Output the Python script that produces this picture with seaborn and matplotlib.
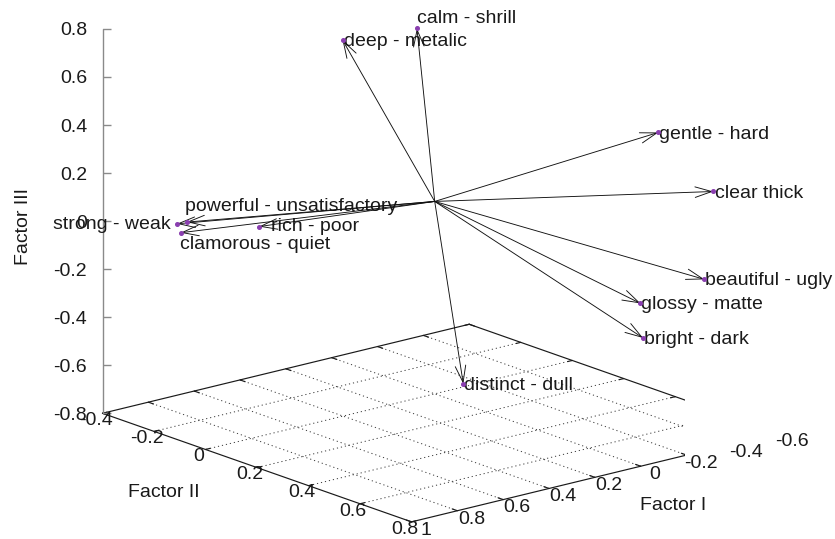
import numpy as np
import matplotlib
matplotlib.use("Agg")
import matplotlib.pyplot as plt
import seaborn as sns
from matplotlib.patches import FancyArrowPatch, Rectangle
from matplotlib.path import Path
from mpl_toolkits.mplot3d import proj3d

# ---- data: loadings of the rating scales on three factors ----
scales = ["calm - shrill", "deep - metalic", "gentle - hard", "clear thick",
          "beautiful - ugly", "glossy - matte", "bright - dark", "distinct - dull",
          "strong - weak", "powerful - unsatisfactory", "clamorous - quiet",
          "rich - poor"]
factor1 = [0.10, 0.20, -0.20, -0.35, -0.30, -0.10, -0.10, 0.10,
           0.90, 0.88, 0.85, 0.62]
factor2 = [0.02, -0.18, 0.69, 0.77, 0.78, 0.71, 0.72, 0.20,
           -0.20, -0.18, -0.23, -0.13]
factor3 = [0.75, 0.65, 0.50, 0.25, -0.10, -0.18, -0.32, -0.66,
           0.04, 0.05, -0.02, -0.01]

f1_ticks = [1.0, 0.8, 0.6, 0.4, 0.2, 0.0, -0.2, -0.4, -0.6]
f2_ticks = [-0.4, -0.2, 0.0, 0.2, 0.4, 0.6, 0.8]
f3_ticks = [-0.8, -0.6, -0.4, -0.2, 0.0, 0.2, 0.4, 0.6, 0.8]

# label placement relative to each arrow tip: (dx px, dy px downward, align)
label_layout = {
    "calm - shrill": (0.5, -5.0, "left"),
    "deep - metalic": (1.0, 6.4, "left"),
    "gentle - hard": (0.5, 6.6, "left"),
    "clear thick": (1.5, 6.6, "left"),
    "beautiful - ugly": (1.0, 5.5, "left"),
    "glossy - matte": (0.5, 5.7, "left"),
    "bright - dark": (1.0, 6.0, "left"),
    "distinct - dull": (1.0, 6.0, "left"),
    "strong - weak": (-6.6, 4.7, "right"),
    "powerful - unsatisfactory": (-1.5, -10.7, "left"),
    "clamorous - quiet": (-0.5, 16.0, "left"),
    "rich - poor": (11.5, 4.0, "left"),
}

# ---- style ----
sns.set_theme(style="white")
plt.rcParams["font.family"] = ["Liberation Sans", "DejaVu Sans"]
FS = 14.0
TXT = "#1a1a1a"
DOT = sns.color_palette(["#8a3fb0"])[0]
W_PX, H_PX, DPI = 835, 539, 100
PT = 72.0 / DPI

F1_LIM = (-0.6, 1.0)
F2_LIM = (-0.4, 0.8)
F3_LIM = (-0.8, 0.8)


class Arrow3D(FancyArrowPatch):
    """Arrow between two 3D points, projected with the axes' own matrix."""

    def __init__(self, xs, ys, zs, **kw):
        super().__init__((0, 0), (0, 0), **kw)
        self._verts3d = (xs, ys, zs)

    def do_3d_projection(self, renderer=None):
        xs, ys, zs = proj3d.proj_transform(*[np.asarray(v, float) for v in self._verts3d],
                                           self.axes.M)
        self.set_positions((xs[0], ys[0]), (xs[1], ys[1]))
        return np.min(zs)


fig = plt.figure(figsize=(W_PX / DPI, H_PX / DPI), dpi=DPI)
fig.patch.set_facecolor("white")
ax = fig.add_axes([0, 0, 1, 1], projection="3d", proj_type="ortho")
ax.set_xlim(*F1_LIM)
ax.set_ylim(*F2_LIM)
ax.set_zlim(*F3_LIM)
ax.set_box_aspect((476.5, 483.0, 402.0))
ax.view_init(elev=16.98, azim=50.26)
ax.set_axis_off()
ax.computed_zorder = False


def to_2d(x, y, z):
    """Projected 2D data coordinates of a 3D point."""
    px, py, _ = proj3d.proj_transform(np.atleast_1d(float(x)), np.atleast_1d(float(y)),
                                      np.atleast_1d(float(z)), ax.M)
    return float(px[0]), float(py[0])


def project(x, y, z):
    return ax.transData.transform([to_2d(x, y, z)])[0]


# place the box: z axis at the left corner of the base, from y=413 (bottom) to y=28.5 (top)
corner_px = (102.5, H_PX - 413.3)
z_height_px = 413.3 - 28.5
for _ in range(3):
    fig.canvas.draw()
    bot = project(F1_LIM[1], F2_LIM[0], F3_LIM[0])
    top = project(F1_LIM[1], F2_LIM[0], F3_LIM[1])
    bb = ax.bbox
    scale = z_height_px / (top[1] - bot[1])
    rx = (bot[0] - bb.x0) / bb.width
    ry = (bot[1] - bb.y0) / bb.height
    side = bb.width * scale
    x0 = corner_px[0] - rx * side
    y0 = corner_px[1] - ry * side
    ax.set_position([x0 / W_PX, y0 / H_PX, side / W_PX, side / H_PX])
fig.canvas.draw()

# base plane lines are cut at the right edge of the plotting area
clip_rect = Rectangle((0, 0), 685.0 / W_PX, 1.0, transform=fig.transFigure)

zb = F3_LIM[0]
base_lines = []
# dotted grid on the base
for v in f1_ticks[1:-1]:
    base_lines += ax.plot([v, v], list(F2_LIM), [zb, zb], color="#3a3a3a",
                          lw=0.7, ls=(0, (1.2, 3.0)), zorder=1)
for v in f2_ticks[1:-1]:
    base_lines += ax.plot(list(F1_LIM), [v, v], [zb, zb], color="#3a3a3a",
                          lw=0.7, ls=(0, (1.2, 3.0)), zorder=1)
# base border
for xs, ys in [((F1_LIM[1], F1_LIM[0]), (F2_LIM[0], F2_LIM[0])),
               ((F1_LIM[1], F1_LIM[1]), (F2_LIM[0], F2_LIM[1])),
               ((F1_LIM[1], F1_LIM[0]), (F2_LIM[1], F2_LIM[1])),
               ((F1_LIM[0], F1_LIM[0]), (F2_LIM[0], F2_LIM[1]))]:
    base_lines += ax.plot(list(xs), list(ys), [zb, zb], color="#1a1a1a", lw=0.85, zorder=2)
# small tick marks on the border
t = 0.02
for v in f1_ticks:
    base_lines += ax.plot([v, v], [F2_LIM[0], F2_LIM[0] + t], [zb, zb], color="#1a1a1a", lw=0.85, zorder=2)
    base_lines += ax.plot([v, v], [F2_LIM[1], F2_LIM[1] - t], [zb, zb], color="#1a1a1a", lw=0.85, zorder=2)
for v in f2_ticks:
    base_lines += ax.plot([F1_LIM[1], F1_LIM[1] - t], [v, v], [zb, zb], color="#1a1a1a", lw=0.85, zorder=2)
    base_lines += ax.plot([F1_LIM[0], F1_LIM[0] + t], [v, v], [zb, zb], color="#1a1a1a", lw=0.85, zorder=2)
for ln in base_lines:
    ln.set_clip_path(clip_rect)

# vertical Factor III axis at the left corner, ticks pointing inward
ax.plot([F1_LIM[1], F1_LIM[1]], [F2_LIM[0], F2_LIM[0]], list(F3_LIM),
        color="#8a8a8a", lw=1.0, zorder=2, clip_on=False)
tick_marker = Path([(0, 0), (1, 0)], [Path.MOVETO, Path.LINETO])
ax.plot([F1_LIM[1]] * len(f3_ticks), [F2_LIM[0]] * len(f3_ticks), f3_ticks,
        ls="none", marker=tick_marker, ms=12.2, mew=1.0, mec="#8a8a8a",
        zorder=2, clip_on=False)


def place_text(x, y, z, s, dx_px, dy_px, ha):
    """Text anchored at the projection of a 3D point, shifted by a few pixels."""
    ax.annotate(s, xy=to_2d(x, y, z), xycoords="data",
                xytext=(dx_px * PT, -dy_px * PT), textcoords="offset points",
                ha=ha, va="baseline", fontsize=FS, color=TXT,
                annotation_clip=False, zorder=3)


def fmt(v):
    return f"{v:g}"


for v in f3_ticks:
    place_text(F1_LIM[1], F2_LIM[0], v, fmt(v), -15.5, 6.8, "right")
for v in f2_ticks:
    place_text(F1_LIM[1], v, zb, fmt(v), -7.0, 11.8, "center")
for v in f1_ticks:
    place_text(v, F2_LIM[1], zb, fmt(v), 14.0, 12.8, "center")

# axis titles
fig.text(23.5 / W_PX, 1 - 226.7 / H_PX, "Factor III", rotation=90, ha="center",
         va="center", fontsize=FS, color=TXT)
fig.text(164.0 / W_PX, 1 - 497.3 / H_PX, "Factor II", ha="center",
         va="baseline", fontsize=FS, color=TXT)
fig.text(673.3 / W_PX, 1 - 510.0 / H_PX, "Factor I", ha="center",
         va="baseline", fontsize=FS, color=TXT)

# scale labels next to the arrow tips
for name, x, y, z in zip(scales, factor1, factor2, factor3):
    dx, dy, ha = label_layout[name]
    place_text(x, y, z, name, dx, dy, ha)

# loading vectors from the origin
for x, y, z in zip(factor1, factor2, factor3):
    arr = Arrow3D([0.0, x], [0.0, y], [0.0, z],
                  arrowstyle="->,head_length=1.2,head_width=0.38",
                  mutation_scale=10, shrinkA=0, shrinkB=0,
                  lw=0.65, color="#111111", zorder=4, clip_on=False)
    ax.add_artist(arr)
    arr.set_clip_on(False)

ax.plot(factor1, factor2, factor3, ls="none", marker="o", ms=2.6,
        color=DOT, mec=DOT, zorder=5, clip_on=False)

fig.savefig("out.png", dpi=DPI, facecolor="white")
